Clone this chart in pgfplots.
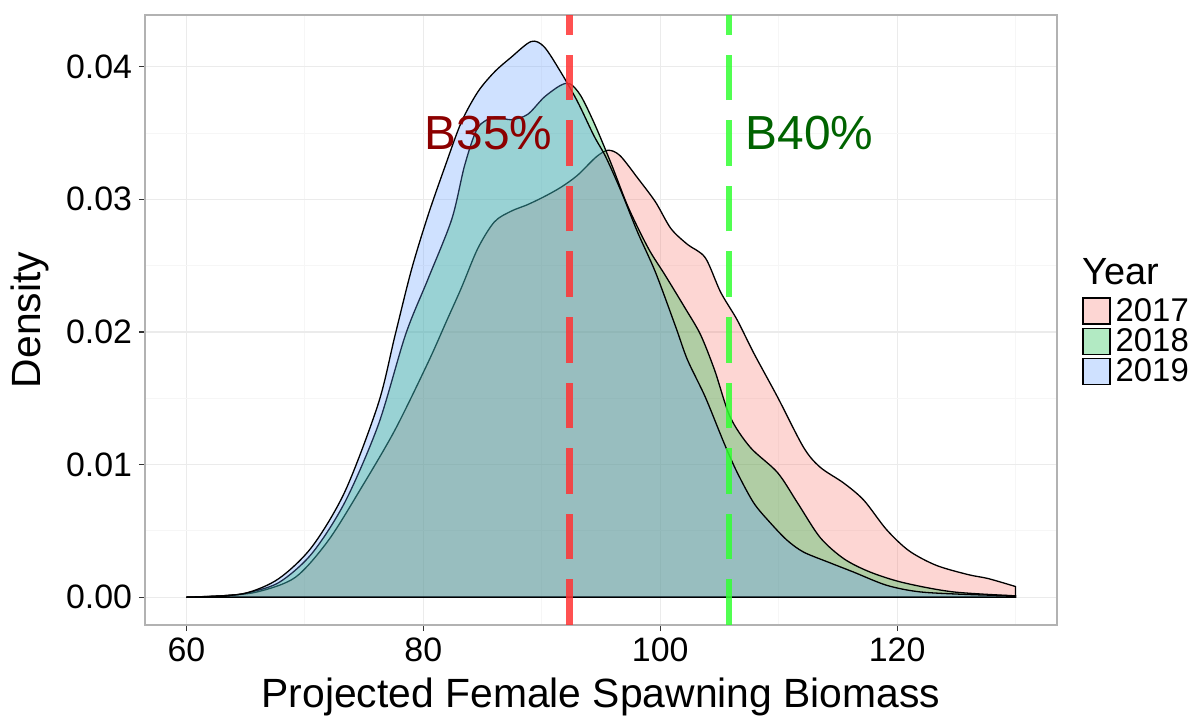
\documentclass[border=0pt]{standalone}
\usepackage{pgfplots}
\pgfplotsset{compat=1.18}
\usepackage{fontspec}
\setmainfont{Liberation Sans}
\definecolor{c17}{HTML}{F8766D}
\definecolor{c18}{HTML}{00BA38}
\definecolor{c19}{HTML}{619CFF}
\definecolor{vred}{HTML}{FF3333}
\definecolor{vgreen}{HTML}{33FF33}
\begin{document}
\begin{tikzpicture}
\useasboundingbox (-72.5bp,-49bp) rectangle (523.5bp,312.5bp);
\begin{axis}[
  scale only axis, width=456bp, height=305bp,
  xmin=56.5, xmax=133.5, ymin=-0.0021, ymax=0.0439,
  xtick={60,80,100,120}, ytick={0,0.01,0.02,0.03,0.04},
  minor xtick={70,90,110,130}, minor ytick={0.005,0.015,0.025,0.035},
  grid=both,
  major grid style={gray!16, line width=0.6bp},
  minor grid style={gray!7, line width=0.5bp},
  axis line style={gray!60, line width=0.6bp},
  tick align=outside, major tick length=3bp, minor tick length=0pt,
  tick style={gray!40!black, line width=0.6bp},
  xtick pos=left, ytick pos=left,
  scaled y ticks=false,
  yticklabel style={/pgf/number format/fixed, /pgf/number format/precision=2, /pgf/number format/fixed zerofill},
  /pgf/number format/assume math mode=true,
  ticklabel style={font=\fontsize{17}{17}\selectfont},
  xlabel={Projected Female Spawning Biomass},
  ylabel={Density},
  label style={font=\fontsize{20.5}{20.5}\selectfont},
  xlabel style={at={(axis description cs:0.5,-0.118)}, anchor=center},
  ylabel style={at={(axis description cs:-0.126,0.5)}, anchor=center},
  legend style={at={(1.0274,0.5377)}, anchor=north west, draw=none, fill=none,
    inner sep=0pt, row sep=1.5bp, column sep=2.5bp,
    font=\fontsize{16.5}{16.5}\selectfont, nodes={inner sep=0pt}},
  legend cell align=left,
  legend image code/.code={\draw[#1] (0bp,-6.5bp) rectangle (13.5bp,6.5bp);},
  every axis plot/.append style={draw=black, line width=0.65bp, fill opacity=0.3, draw opacity=1},
]
% 2017
\addplot[smooth, fill=c17] coordinates {
(60,0) (63,0.0001) (66,0.0004) (69.2,0.0015) (72.0,0.0043) (74.8,0.0083)
(77.6,0.0126) (80.4,0.0177) (82.0,0.0209) (83.2,0.0233) (84.6,0.0263)
(86.0,0.0283) (87.4,0.0291) (88.8,0.0296) (90.2,0.0302) (91.6,0.0309)
(93.0,0.0318) (94.6,0.0332) (95.6,0.0337) (96.6,0.0333) (98.1,0.0316)
(99.6,0.0298) (100.9,0.0278) (102.3,0.0266) (103.8,0.0256) (105.1,0.0230)
(106.5,0.0209) (107.9,0.0184) (109.9,0.0151) (112.1,0.0113) (113.5,0.0098)
(115.5,0.0086) (117.2,0.0073) (119.1,0.0051) (121.0,0.0035) (123.3,0.0024)
(126.0,0.0017) (127.7,0.0014) (130,0.0008)
} \closedcycle;
\addlegendentry{2017}
% 2018
\addplot[smooth, fill=c18] coordinates {
(60,0) (63,0.0001) (65,0.0003) (67.8,0.0011) (70.6,0.0033) (73.4,0.0072)
(76.2,0.0130) (78.5,0.0198) (80.4,0.0240) (82.4,0.0285) (83.5,0.0326)
(84.6,0.0354) (86.0,0.0362) (87.4,0.0360) (88.8,0.0364) (90.2,0.0377)
(91.6,0.0386) (92.4,0.0387) (93.3,0.0378) (94.5,0.0356) (95.9,0.0326)
(97.3,0.0294) (99.0,0.0263) (100.4,0.0243) (102.1,0.0218) (103.4,0.0198)
(104.6,0.0171) (105.9,0.0136) (107.6,0.0113) (109.9,0.0094) (111.6,0.0071)
(113.5,0.0045) (115.5,0.0029) (117.7,0.0019) (120.5,0.0011) (124.7,0.0004)
(130,0.0001)
} \closedcycle;
\addlegendentry{2018}
% 2019
\addplot[smooth, fill=c19] coordinates {
(60,0) (62,0.00005) (65,0.0003) (67.8,0.0014) (70.6,0.0038) (73.4,0.0080)
(76.2,0.0146) (77.6,0.0197) (79.0,0.0247) (80.4,0.0288) (81.8,0.0324)
(83.2,0.0358) (84.6,0.0381) (86.0,0.0396) (87.4,0.0407) (89.1,0.0419)
(90.2,0.0415) (91.6,0.0396) (93.0,0.0374) (94.4,0.0348) (95.4,0.0332)
(96.7,0.0306) (98.1,0.0275) (99.6,0.0245) (101.3,0.0204) (102.3,0.0179)
(103.8,0.0151) (105.4,0.0116) (106.5,0.0094) (107.9,0.0071) (109.3,0.0056)
(110.7,0.0043) (112.1,0.0034) (114.3,0.0026) (116.3,0.0019) (119.1,0.0009)
(121.9,0.0004) (126.0,0.0002) (130,0.0001)
} \closedcycle;
\addlegendentry{2019}
% reference lines
\addplot[forget plot, draw=vred, draw opacity=0.85, line width=3.3bp, dash pattern=on 22.8bp off 10bp]
  coordinates {(92.36,-0.0021) (92.36,0.0439)};
\addplot[forget plot, draw=vgreen, draw opacity=0.85, line width=3.3bp, dash pattern=on 22.8bp off 10bp]
  coordinates {(105.8,-0.0021) (105.8,0.0439)};
\node[text=red!55!black, font=\fontsize{24}{24}\selectfont] at (axis cs:85.5,0.035) {B35\%};
\node[text=green!39!black, font=\fontsize{24}{24}\selectfont] at (axis cs:112.6,0.035) {B40\%};
\end{axis}
\node[anchor=base west, inner sep=0pt, font=\fontsize{19}{19}\selectfont] at (468.5bp,170bp) {Year};
\end{tikzpicture}
\end{document}
